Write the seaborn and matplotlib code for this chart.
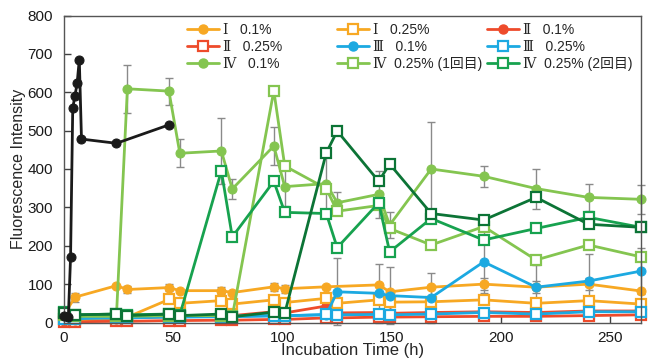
import numpy as np
import pandas as pd
import matplotlib
matplotlib.use("Agg")
import matplotlib.pyplot as plt
from matplotlib.lines import Line2D
from matplotlib.legend import Legend
import seaborn as sns

nan = np.nan
T = [0, 5, 24, 29, 48, 53, 72, 77, 96, 101, 120, 125, 144, 149, 168, 192, 216, 240, 264]

I_01 = [20, 66, 96, 86, 91, 83, 83, 78, 93, 88, 93, nan, 98, 80, 92, 100, 92, 100, 82]
I_01_err = [nan, 12, nan, 10, 10, nan, 10, nan, 10, 10, nan, nan, nan, nan, nan, 15, 15, 15, nan]
I_025 = [8, 8, 12, 14, 60, 50, 57, 48, 59, 52, 63, 50, 59, 53, 54, 59, 50, 57, 48]
II_01 = [5, 6, 10, 12, 15, 15, 18, 18, 28, 25, 43, 25, 26, 24, 26, 28, 26, 30, 30]
II_025 = [2, 2, 3, 3, 5, 5, 6, 6, 8, 8, 12, 12, 14, 14, 15, 16, 16, 18, 20]
III_01 = [10, 12, 14, 14, 16, 16, 17, 17, 18, 18, 20, 80, 76, 70, 65, 158, 92, 108, 134]
III_01_err = [nan, nan, nan, nan, nan, nan, nan, nan, nan, nan, nan, 87, 76, 74, 65, 80, 58, 70, 60]
III_025 = [10, 10, 12, 12, 14, 14, 15, 15, 17, 17, 21, 20, 21, 20, 22, 26, 22, 28, 28]
IV_01 = [22, 18, 18, 609, 603, 441, 447, 348, 460, 354, 362, 312, 334, 254, 400, 381, 349, 326, 321]
IV_01_err = [nan, nan, nan, 62, 35, 36, 86, 26, 49, 50, 87, 27, 61, 35, 123, 27, 52, 35, 37]
IV_025_a = [20, 16, 16, 16, 18, 18, 18, 16, 604, 408, 349, 290, 305, 245, 202, 250, 163, 202, 171]
IV_025_b = [28, 20, 22, 20, 22, 20, 395, 223, 368, 287, 284, 195, 312, 184, 271, 215, 245, 274, 248]
IV_025_c = [25, 20, 22, 18, 22, 18, 22, 15, 27, 24, 442, 499, 368, 413, 284, 267, 326, 256, 248]

T_black = [0, 2, 3, 4, 5, 6, 7, 8, 24, 48]
BLACK = [17, 15, 170, 559, 590, 623, 685, 478, 467, 515]

labels = ["Ⅰ   0.1%", "Ⅰ   0.25%", "Ⅱ   0.1%", "Ⅱ   0.25%", "Ⅲ   0.1%", "Ⅲ   0.25%",
          "Ⅳ   0.1%", "Ⅳ  0.25% (1回目)", "Ⅳ  0.25% (2回目)"]

ORANGE = "#F7A823"
RED = "#EE4B2B"
BLUE = "#1CA9E1"
LGREEN = "#84C550"
MGREEN = "#17A24F"
DGREEN = "#0C7436"

sns.set_style("ticks")
plt.rcParams['font.family'] = ['Liberation Sans', 'DejaVu Serif', 'Noto Sans CJK JP']

fig = plt.figure(figsize=(6.49, 3.6), dpi=100)
ax = fig.add_axes([64/649, 1-322.5/360, 577/649, 307/360])

def draw(x, y, color, filled, err=None, z=2):
    df = pd.DataFrame({"t": x, "v": y}).dropna()
    if err is not None:
        e = pd.DataFrame({"t": x, "v": y, "e": err}).dropna()
        ax.errorbar(e["t"], e["v"], yerr=e["e"], fmt="none", ecolor="#8a8a8a",
                    elinewidth=1.0, capsize=3, capthick=1.0, zorder=1, clip_on=False)
    kw = dict(marker="o", markersize=6.5, markerfacecolor=color, markeredgecolor=color) if filled else \
        dict(marker="s", markersize=7, markerfacecolor="white", markeredgecolor=color, markeredgewidth=1.6)
    sns.lineplot(data=df, x="t", y="v", ax=ax, color=color, linewidth=2.0, zorder=z,
                 clip_on=False, estimator=None, **kw)

draw(T, II_025, RED, False)
draw(T, II_01, RED, True)
draw(T, I_025, ORANGE, False)
draw(T, I_01, ORANGE, True, I_01_err)
draw(T, III_01, BLUE, True, III_01_err)
draw(T, III_025, BLUE, False)
draw(T, IV_01, LGREEN, True, IV_01_err)
draw(T, IV_025_a, LGREEN, False)
draw(T, IV_025_b, MGREEN, False)
draw(T, IV_025_c, DGREEN, False)
draw(T_black, BLACK, "#1a1a1a", True, z=3)

ax.set_xlim(0, 264)
ax.set_ylim(0, 800)
ax.set_xticks([0, 50, 100, 150, 200, 250])
ax.set_yticks(range(0, 801, 100))
ax.tick_params(direction="in", length=5, width=1, colors="#404040", labelcolor="#1a1a1a",
               labelsize=11, pad=8)
ax.tick_params(axis="x", pad=6)
for s in ax.spines.values():
    s.set_visible(True)
    s.set_color("#555555")
    s.set_linewidth(1.0)
ax.set_xlabel("Incubation Time (h)", fontsize=12, labelpad=-1)
ax.set_ylabel("Fluorescence Intensity", fontsize=11.5, labelpad=1)
if ax.get_legend() is not None:
    ax.get_legend().remove()

def h(color, filled):
    if filled:
        return Line2D([], [], color=color, lw=2, marker="o", markersize=6.5,
                      markerfacecolor=color, markeredgecolor=color)
    return Line2D([], [], color=color, lw=2, marker="s", markersize=7,
                  markerfacecolor="white", markeredgecolor=color, markeredgewidth=1.6)

hs = [h(ORANGE, True), h(ORANGE, False), h(RED, True), h(RED, False), h(BLUE, True),
      h(BLUE, False), h(LGREEN, True), h(LGREEN, False), h(MGREEN, False)]
col_x = [187, 337, 487]
for c in range(3):
    idx = [c, c + 3, c + 6]
    lg = Legend(ax, [hs[i] for i in idx], [labels[i] for i in idx], ncol=1,
                loc="upper left", bbox_to_anchor=(col_x[c]/649, 1-23/360),
                bbox_transform=fig.transFigure, frameon=False, fontsize=10,
                handlelength=2.3, handletextpad=0.3, labelspacing=0.2,
                borderpad=0, borderaxespad=0)
    ax.add_artist(lg)

fig.savefig("out.png", dpi=100)
